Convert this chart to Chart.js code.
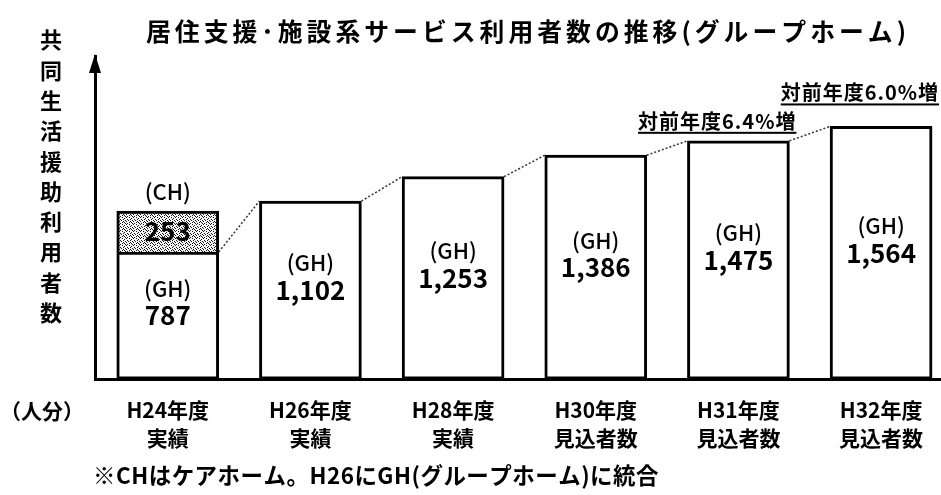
<!DOCTYPE html>
<html lang="ja">
<head>
<meta charset="utf-8">
<script src="https://cdn.jsdelivr.net/npm/chart.js@4/dist/chart.umd.min.js"></script>
<style>
  html, body { margin: 0; padding: 0; background: #fff; }
</style>
</head>
<body>
<canvas id="chart" width="941" height="495"></canvas>
<script>
// chart values
const years = ['H24年度', 'H26年度', 'H28年度', 'H30年度', 'H31年度', 'H32年度'];
const kinds = ['実績', '実績', '実績', '見込者数', '見込者数', '見込者数'];
const ghUsers = [787, 1102, 1253, 1386, 1475, 1564];
const chUsers = [253, null, null, null, null, null];
const growthNotes = ['対前年度6.4%増', '対前年度6.0%増'];
const growthBars = [4, 5];

const titleText = '居住支援･施設系サービス利用者数の推移(グループホーム)';
const yTitle = '共同生活援助利用者数';
const unitText = '（人分）';
const footNote = '※CHはケアホーム。H26にGH(グループホーム)に統合';

const FONT = '"Noto Sans CJK JP", "Noto Sans", sans-serif';

const canvas = document.getElementById('chart');

//speckled grey fill used for the CH part of the first bar
function makeSpeckle(ctx) {
  const c = document.createElement('canvas');
  c.width = 7; c.height = 7;
  const g = c.getContext('2d');
  g.fillStyle = '#f4f4f4';
  g.fillRect(0, 0, 7, 7);
  g.fillStyle = '#1a1a1a';
  const dots = [[0,0],[3,0],[5,1],[1,2],[4,2],[6,3],[2,3],[0,4],[3,5],[5,5],[1,6],[6,6],[4,4]];
  dots.forEach(([x, y]) => g.fillRect(x, y, 1, 1));
  return ctx.createPattern(c, 'repeat');
}

const decorations = {
  id: 'decorations',
  afterDraw(chart) {
    const { ctx, chartArea: area } = chart;
    const gh = chart.getDatasetMeta(0).data;
    const ch = chart.getDatasetMeta(1).data;
    ctx.save();
    ctx.fillStyle = '#000';
    ctx.strokeStyle = '#000';

    // arrow on top of the value axis
    ctx.beginPath();
    ctx.moveTo(area.left, area.top - 2);
    ctx.lineTo(area.left - 6, area.top + 17);
    ctx.lineTo(area.left + 6, area.top + 17);
    ctx.closePath();
    ctx.fill();

    // dotted lines between bar tops
    ctx.strokeStyle = '#333';
    ctx.lineWidth = 1.5;
    ctx.setLineDash([2, 2]);
    for (let i = 0; i < gh.length - 1; i++) {
      const a = gh[i], b = gh[i + 1];
      ctx.beginPath();
      ctx.moveTo(a.x + a.width / 2, a.y);
      ctx.lineTo(b.x - b.width / 2, b.y);
      ctx.stroke();
    }
    ctx.setLineDash([]);

    // labels inside the bars
    ctx.textAlign = 'center';
    ctx.textBaseline = 'middle';
    gh.forEach((bar, i) => {
      const mid = (bar.y + bar.base) / 2;
      ctx.font = '500 22px ' + FONT;
      ctx.fillText('(GH)', bar.x, mid - 27);
      ctx.font = 'bold 26px ' + FONT;
      ctx.fillText(ghUsers[i].toLocaleString('en-US'), bar.x, mid);
    });
    ch.forEach((bar, i) => {
      if (chUsers[i] == null) return;
      ctx.font = '500 22px ' + FONT;
      ctx.fillText('(CH)', bar.x, bar.y - 19);
      ctx.font = 'bold 26px ' + FONT;
      ctx.fillText(String(chUsers[i]), bar.x, (bar.y + bar.base) / 2);
    });

    // growth notes, underlined
    ctx.textAlign = 'right';
    ctx.textBaseline = 'alphabetic';
    ctx.font = 'bold 20px ' + FONT;
    ctx.letterSpacing = '1px';
    const lift = [8, 22];
    growthNotes.forEach((txt, k) => {
      const bar = gh[growthBars[k]];
      const right = bar.x + bar.width / 2 + 7;
      const lineY = bar.y - lift[k];
      ctx.fillText(txt, right, lineY - 4);
      const w = ctx.measureText(txt).width;
      ctx.fillRect(right - w, lineY - 1, w, 2);
    });

    // title
    ctx.textAlign = 'left';
    ctx.textBaseline = 'middle';
    ctx.font = 'bold 25px ' + FONT;
    ctx.letterSpacing = '4px';
    ctx.fillText(titleText, 146, 31, 764);
    ctx.letterSpacing = '0px';

    // vertical axis title
    ctx.textAlign = 'center';
    ctx.font = 'bold 22px ' + FONT;
    [...yTitle].forEach((c, i) => ctx.fillText(c, 51, 40 + i * 30.3));

    // unit and footnote
    ctx.textAlign = 'left';
    ctx.font = 'bold 21px ' + FONT;
    ctx.fillText(unitText, 0, 411);
    ctx.font = 'bold 23px ' + FONT;
    ctx.letterSpacing = '0.5px';
    ctx.fillText(footNote, 93, 475, 566);
    ctx.restore();
  }
};

const chart = new Chart(canvas, {
  type: 'bar',
  data: {
    datasets: [
      {
        label: 'GH',
        data: ghUsers.map((v, i) => ({ x: i, y: v })),
        backgroundColor: '#fff',
        borderColor: '#000',
        borderWidth: 3,
        borderSkipped: false,
        barThickness: 102,
      },
      {
        label: 'CH',
        data: chUsers.map((v, i) => ({ x: i, y: v })),
        backgroundColor: makeSpeckle(canvas.getContext('2d')),
        borderColor: '#000',
        borderWidth: { top: 3, left: 3, right: 3, bottom: 0 },
        borderSkipped: false,
        barThickness: 102,
      },
    ],
  },
  options: {
    responsive: false,
    animation: false,
    devicePixelRatio: 1,
    layout: { padding: { left: 95, right: 0, top: 56, bottom: 26 } },
    plugins: {
      legend: { display: false },
      tooltip: { enabled: false },
    },
    scales: {
      x: {
        type: 'linear',
        offset: false,
        stacked: true,
        min: -0.51,
        max: 5.42,
        afterBuildTicks: (axis) => { axis.ticks = years.map((_, i) => ({ value: i })); },
        grid: { display: false, drawTicks: false },
        border: { display: true, color: '#000', width: 3 },
        ticks: {
          autoSkip: false,
          maxRotation: 0,
          padding: 17,
          color: '#000',
          font: { family: FONT, size: 21, weight: 'bold', lineHeight: 1.33 },
          callback: (v) => Number.isInteger(v) ? [years[v], kinds[v]] : '',
        },
      },
      y: {
        stacked: true,
        min: 0,
        max: 2000,
        grid: { display: false, drawTicks: false },
        border: { display: true, color: '#000', width: 3 },
        ticks: { display: false },
      },
    },
  },
  plugins: [decorations],
});
</script>
</body>
</html>
